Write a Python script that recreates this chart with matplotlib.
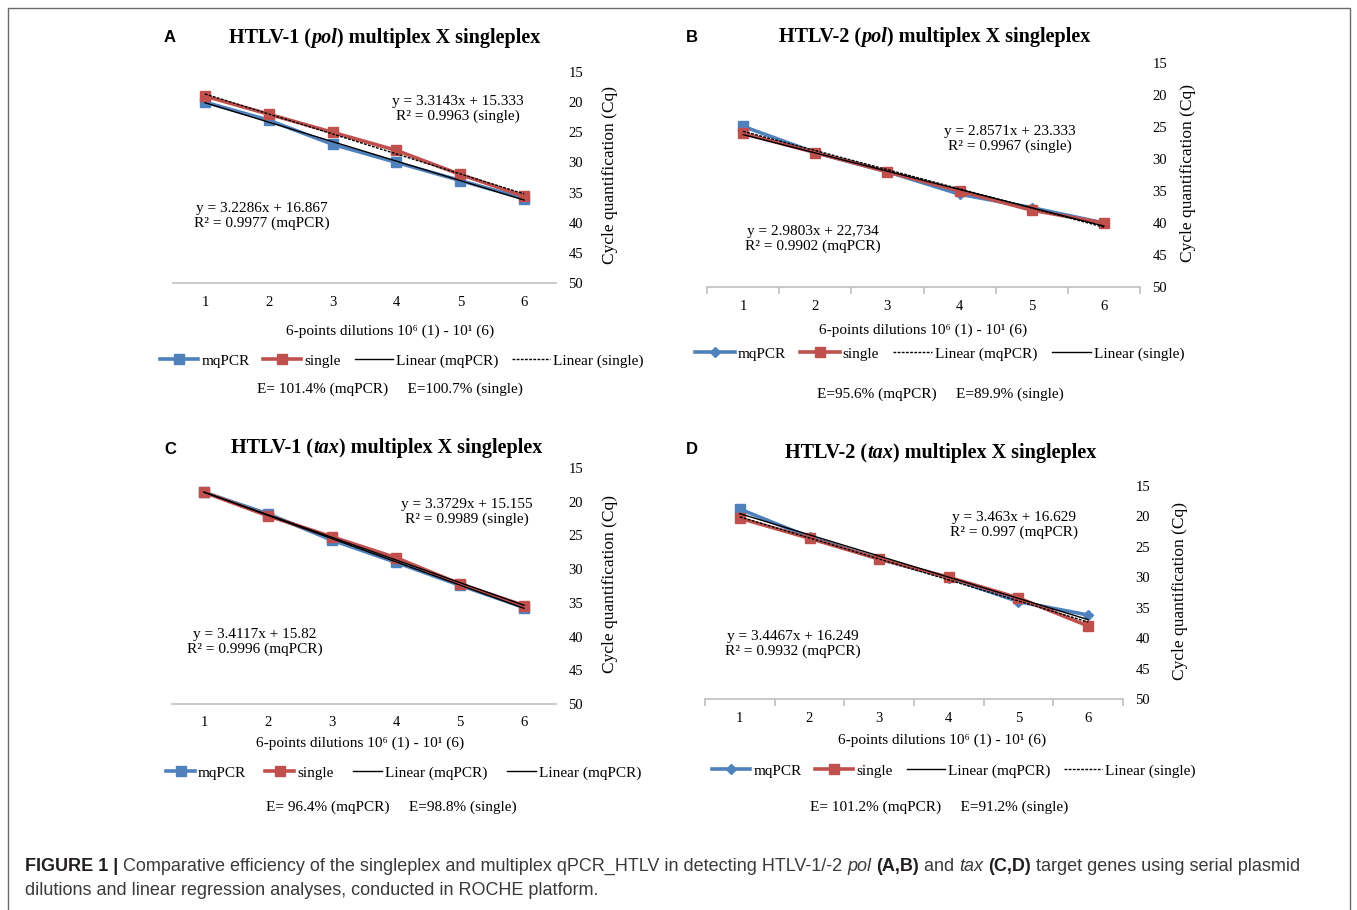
import matplotlib
matplotlib.use("Agg")
import matplotlib.pyplot as plt
from matplotlib.lines import Line2D
from matplotlib.patches import Rectangle
import numpy as np

W, H = 1357, 910
plt.rcParams['font.family'] = ['Liberation Serif', 'DejaVu Serif']
SANS = ['Liberation Sans Narrow', 'Liberation Sans', 'DejaVu Sans']

BLUE = '#4F81BD'
RED = '#C0504D'
GRID = '#BFBFBF'

dilutions = [1, 2, 3, 4, 5, 6]
cq_ticks = [15, 20, 25, 30, 35, 40, 45, 50]

# Cq values
a_mq = [20.0, 23.0, 27.0, 30.0, 33.0, 36.0]
a_single = [19.0, 22.0, 25.0, 28.0, 32.0, 35.6]
b_mq = [24.9, 29.0, 32.0, 35.5, 37.6, 40.0]
b_single = [26.0, 29.0, 32.0, 35.0, 38.0, 40.0]
c_mq = [18.6, 21.8, 25.7, 29.0, 32.4, 35.7]
c_single = [18.6, 22.1, 25.2, 28.3, 32.2, 35.4]
d_mq = [18.8, 23.4, 27.0, 30.1, 34.0, 36.2]
d_single = [20.3, 23.6, 27.0, 30.0, 33.4, 38.0]

# text shown on the charts
a_eq = ["y = 3.3143x + 15.333\nR² = 0.9963 (single)", "y = 3.2286x + 16.867\nR² = 0.9977 (mqPCR)"]
b_eq = ["y = 2.8571x + 23.333\nR² = 0.9967 (single)", "y = 2.9803x + 22,734\nR² = 0.9902 (mqPCR)"]
c_eq = ["y = 3.3729x + 15.155\nR² = 0.9989 (single)", "y = 3.4117x + 15.82\nR² = 0.9996 (mqPCR)"]
d_eq = ["y = 3.463x + 16.629\nR² = 0.997 (mqPCR)", "y = 3.4467x + 16.249\nR² = 0.9932 (mqPCR)"]
a_eff = "E= 101.4% (mqPCR)     E=100.7% (single)"
b_eff = "E=95.6% (mqPCR)     E=89.9% (single)"
c_eff = "E= 96.4% (mqPCR)     E=98.8% (single)"
d_eff = "E= 101.2% (mqPCR)     E=91.2% (single)"
xlab = "6-points dilutions 10⁶ (1) - 10¹ (6)"

fig = plt.figure(figsize=(W / 100, H / 100), dpi=100)
renderer = fig.canvas.get_renderer()


def fx(x):
    return x / W


def fy(y):
    return 1 - y / H


def width_of(s, kw):
    # measure with sentinels so leading/trailing spaces count
    t = fig.text(0, 0, '|' + s + '|', **kw)
    w1 = t.get_window_extent(renderer).width
    t.set_text('||')
    w2 = t.get_window_extent(renderer).width
    t.remove()
    return w1 - w2


def rich(x, y, pieces, ha='center', draw=True, **common):
    styles = [{**common, **st} for s, st in pieces]
    widths = [width_of(s, kw) for (s, _), kw in zip(pieces, styles)]
    if not draw:
        return sum(widths)
    start = x - sum(widths) / 2 if ha == 'center' else x
    for (s, _), kw, w in zip(pieces, styles, widths):
        fig.text(fx(start), fy(y), s, va='baseline', ha='left', **kw)
        start += w
    return sum(widths)


def panel(box, mq, single, mq_diamond, mq_trend, single_trend, trend_labels,
          eqs, eq_pos, eff, eff_pos, xlab_pos, leg_pos, leg_opts, boundary_ticks,
          ylab_x, letter, letter_pos, title_pieces, title_pos):
    l, t, r, b = box
    ax = fig.add_axes([fx(l), fy(b), (r - l) / W, (b - t) / H])
    for s in ['top', 'left', 'right']:
        ax.spines[s].set_visible(False)
    ax.spines['bottom'].set_color(GRID)
    ax.spines['bottom'].set_linewidth(1.2)
    ax.set_xlim(0.5, 6.5)
    ax.set_ylim(50, 15)
    ax.set_yticks(cq_ticks)
    ax.yaxis.tick_right()
    ax.tick_params(axis='y', length=0, pad=9, labelsize=10.5)
    ax.set_xticks(dilutions)
    ax.tick_params(axis='x', which='major', length=0, pad=9, labelsize=10.5)
    if boundary_ticks:
        ax.set_xticks(np.arange(0.5, 7, 1), minor=True)
        ax.tick_params(axis='x', which='minor', length=5, color=GRID, width=1.2)

    mq_marker = 'D' if mq_diamond else 's'
    ax.plot(dilutions, mq, color=BLUE, lw=2.6, marker=mq_marker,
            ms=5 if mq_diamond else 7, zorder=2)
    if mq_diamond:
        ax.plot(dilutions[:1], mq[:1], color=BLUE, marker='s', ms=7, ls='none', zorder=2)
    ax.plot(dilutions, single, color=RED, lw=2.6, marker='s', ms=7.5, zorder=2)

    for vals, ls in [(mq, mq_trend), (single, single_trend)]:
        coef = np.polyfit(dilutions, vals, 1)
        ax.plot(dilutions, np.polyval(coef, dilutions), color='black', lw=1.0,
                ls=ls, zorder=3)

    for s, (ex, ey) in zip(eqs, eq_pos):
        fig.text(fx(ex), fy(ey), s, ha='center', va='center', fontsize=11,
                 multialignment='center', linespacing=1.1)

    fig.text(fx(ylab_x), fy((t + b) / 2 - 2), "Cycle quantification (Cq)",
             rotation=90, ha='center', va='center', fontsize=12.5)
    fig.text(fx(xlab_pos[0]), fy(xlab_pos[1]), xlab, ha='center', va='center',
             fontsize=11)
    fig.text(fx(eff_pos[0]), fy(eff_pos[1]), eff, ha='center', va='center',
             fontsize=11)

    handles = [
        Line2D([], [], color=BLUE, lw=2.6, marker=mq_marker, ms=5 if mq_diamond else 7),
        Line2D([], [], color=RED, lw=2.6, marker='s', ms=7.5),
        Line2D([], [], color='black', lw=1.0, ls=trend_labels[0][1]),
        Line2D([], [], color='black', lw=1.0, ls=trend_labels[1][1]),
    ]
    labels = ['mqPCR', 'single', trend_labels[0][0], trend_labels[1][0]]
    ax.legend(handles, labels, loc='center left', ncol=4, frameon=False,
              bbox_to_anchor=(fx(leg_pos[0]), fy(leg_pos[1])),
              bbox_transform=fig.transFigure, fontsize=11, borderpad=0,
              borderaxespad=0, handletextpad=0.2, **leg_opts)

    fig.text(fx(letter_pos[0]), fy(letter_pos[1]), letter, ha='center', va='center',
             fontsize=12, fontweight='bold', family=SANS)
    rich(title_pos[0], title_pos[1], title_pieces, fontsize=14.5, fontweight='bold')
    return ax


DOT = (0, (2, 1))

panel((173, 72, 556, 283), a_mq, a_single, False, '-', DOT,
      [("Linear (mqPCR)", '-'), ("Linear (single)", DOT)],
      a_eq, [(458, 109), (262, 216)], a_eff, (390, 389), (390, 331),
      (160, 361), dict(handlelength=2.5, columnspacing=0.9), False, 610,
      'A', (170, 38), [("HTLV-1 (", {}), ("pol", {'style': 'italic'}),
                       (") multiplex X singleplex", {})], (385, 43))

panel((707, 63, 1140, 287), b_mq, b_single, True, DOT, '-',
      [("Linear (mqPCR)", DOT), ("Linear (single)", '-')],
      b_eq, [(1010, 139), (813, 239)], b_eff, (940, 394), (923, 330),
      (695, 354), dict(handlelength=2.6, columnspacing=0.9), True, 1188,
      'B', (692, 38), [("HTLV-2 (", {}), ("pol", {'style': 'italic'}),
                       (") multiplex X singleplex", {})], (935, 42))

panel((172, 468, 556, 704), c_mq, c_single, False, '-', '-',
      [("Linear (mqPCR)", '-'), ("Linear (mqPCR)", '-')],
      c_eq, [(467, 512), (255, 642)], c_eff, (391, 807), (360, 743),
      (166, 773), dict(handlelength=1.9, columnspacing=1.25), False, 610,
      'C', (170, 450), [("HTLV-1 (", {}), ("tax", {'style': 'italic'}),
                        (") multiplex X singleplex", {})], (387, 453))

panel((705, 486, 1123, 699), d_mq, d_single, True, '-', DOT,
      [("Linear (mqPCR)", '-'), ("Linear (single)", DOT)],
      d_eq, [(1014, 525), (793, 644)], d_eff, (939, 807), (942, 740),
      (712, 771), dict(handlelength=2.5, columnspacing=0.9), True, 1180,
      'D', (692, 450), [("HTLV-2 (", {}), ("tax", {'style': 'italic'}),
                        (") multiplex X singleplex", {})], (941, 458))

# caption, sized so the first line runs from x=25 to about x=1305
bold_dark = {'fontweight': 'bold', 'color': '#231f20'}
line1 = [("FIGURE 1 | ", bold_dark),
         ("Comparative efficiency of the singleplex and multiplex qPCR_HTLV in detecting HTLV-1/-2 ", {}),
         ("pol", {'style': 'italic'}), (" ", {}),
         ("(A,B)", bold_dark), (" and ", {}),
         ("tax", {'style': 'italic'}), (" ", {}),
         ("(C,D)", bold_dark),
         (" target genes using serial plasmid", {})]
line2 = [("dilutions and linear regression analyses, conducted in ROCHE platform.", {})]
w14 = rich(25, 872, line1, ha='left', draw=False, fontsize=14, family=SANS)
cap_size = 14 * 1280 / w14
cap = dict(fontsize=cap_size, family=SANS, color='#3a3a3a')
rich(25, 871, line1, ha='left', **cap)
rich(25, 895, line2, ha='left', **cap)

fig.patches.append(Rectangle((fx(8), fy(930)), (1350 - 8) / W, (930 - 8) / H,
                             transform=fig.transFigure, fill=False,
                             edgecolor='#6b6b6b', lw=1.0))

fig.savefig('out.png', dpi=100)
